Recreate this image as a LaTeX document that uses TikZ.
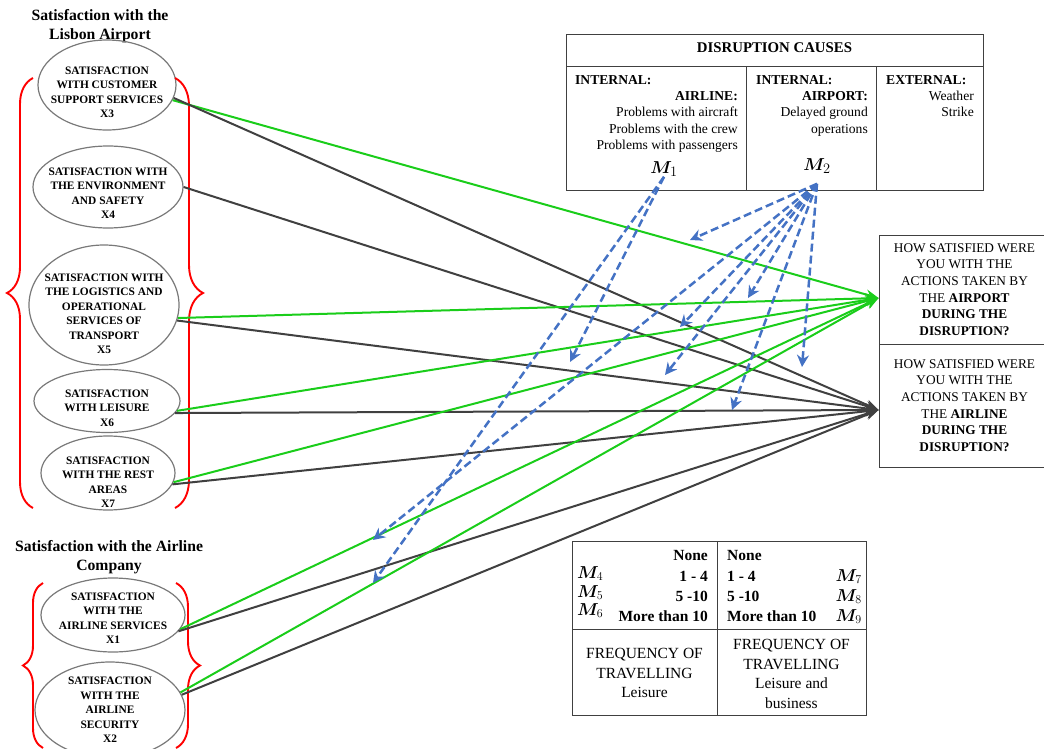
\documentclass[tikz,border=0pt]{standalone}
\usepackage{bm}
\usepackage{fontspec}
\setmainfont{Liberation Serif}
\usetikzlibrary{shapes.geometric, arrows.meta, decorations.pathreplacing, calc}
\definecolor{gaingreen}{HTML}{1ACD1A}
\definecolor{pathgray}{HTML}{404040}
\definecolor{modblue}{HTML}{4472C4}

\begin{document}
\begin{tikzpicture}[
    x=1pt, y=-1pt,
    factor/.style={ellipse, draw=gray!95!black, line width=1.2pt, inner sep=0pt},
    factortext/.style={inner sep=0pt, align=center, font=\fontsize{11.4}{14.5}\selectfont\bfseries},
    group/.style={align=center, font=\fontsize{15.7}{19}\selectfont\bfseries},
    question/.style={rectangle, draw=black!75, line width=0.9pt, minimum width=171pt,
                    align=center, font=\fontsize{13.3}{16.7}\selectfont},
    cell/.style={inner sep=0pt, font=\fontsize{13.6}{16.3}\selectfont},
    cellb/.style={inner sep=0pt, font=\fontsize{13.6}{16.3}\selectfont\bfseries},
    freq/.style={inner sep=0pt, font=\fontsize{15.5}{19.5}\selectfont},
    freqb/.style={inner sep=0pt, font=\fontsize{15.5}{19.5}\selectfont\bfseries},
    tableline/.style={draw=black!75, line width=0.9pt},
    groupbrace/.style={decorate, draw=red, line width=1.9pt},
    toairport/.style={-{Stealth[length=13pt,width=10pt]}, line width=2pt, gaingreen},
    toairline/.style={-{Stealth[length=13pt,width=10pt]}, line width=2pt, pathgray},
    moderator/.style={-{Stealth[length=12pt,width=12pt,inset=4pt]}, line width=2.5pt,
                     modblue, dash pattern=on 8pt off 4pt}
]
\useasboundingbox (0,0) rectangle (1044,749);

% Groups
\node[group] (gairport) at (100,26) {Satisfaction with the\\Lisbon Airport};
\node[group] (gairline) at (109,557) {Satisfaction with the Airline\\Company};

% Factors
\node[factor, minimum width=138pt, minimum height=90pt,
      label={[factortext, yshift=-7.5pt]center:SATISFACTION\\WITH CUSTOMER\\SUPPORT SERVICES\\X3}] (x3) at (107,85) {};
\node[factor, minimum width=150pt, minimum height=82pt,
      label={[factortext, yshift=-6pt]center:SATISFACTION WITH\\THE ENVIRONMENT\\AND SAFETY\\X4}] (x4) at (108,187) {};
\node[factor, minimum width=150pt, minimum height=120pt,
      label={[factortext, yshift=-9pt]center:SATISFACTION WITH\\THE LOGISTICS AND\\OPERATIONAL\\SERVICES OF\\TRANSPORT\\X5}] (x5) at (104,305) {};
\node[factor, minimum width=146pt, minimum height=63pt,
      label={[factortext, yshift=-7pt]center:SATISFACTION\\WITH LEISURE\\X6}] (x6) at (107,401) {};
\node[factor, minimum width=134pt, minimum height=74pt,
      label={[factortext, yshift=-9pt]center:SATISFACTION\\WITH THE REST\\AREAS\\X7}] (x7) at (108,473) {};
\node[factor, minimum width=144pt, minimum height=74pt,
      label={[factortext, yshift=-3pt]center:SATISFACTION\\WITH THE\\AIRLINE SERVICES\\X1}] (x1) at (113,615) {};
\node[factor, minimum width=150pt, minimum height=96pt,
      label={[factortext]center:SATISFACTION\\WITH THE\\AIRLINE\\SECURITY\\X2}] (x2) at (110,710) {};

% Braces
\draw[groupbrace, decoration={brace, amplitude=26pt}] (33,508) -- (33,78);
\draw[groupbrace, decoration={brace, amplitude=28pt}] (175,78) -- (175,508);
\draw[groupbrace, decoration={brace, amplitude=20pt}] (43,748) -- (43,583);
\draw[groupbrace, decoration={brace, amplitude=24pt}] (176,583) -- (176,748);

% Disruption causes
\draw[tableline] (566,34) rectangle (983,190);
\draw[tableline] (566,66.7) -- (983,66.7);
\draw[tableline] (746.7,66.7) -- (746.7,190);
\draw[tableline] (876.7,66.7) -- (876.7,190);
\node[cellb, font=\fontsize{14.8}{17}\selectfont\bfseries, anchor=base] (causes) at (774.5,52.5) {DISRUPTION CAUSES};
\node[cellb, anchor=base west] (int1) at (575,84.5) {INTERNAL:};
\node[cellb, anchor=base east] (catairline) at (738,101) {AIRLINE:};
\node[cell, anchor=base east] (c11) at (738,117) {Problems with aircraft};
\node[cell, anchor=base east] (c12) at (738,133.5) {Problems with the crew};
\node[cell, anchor=base east] (c13) at (738,149.5) {Problems with passengers};
\node[cell, font=\fontsize{19}{21}\selectfont] (m1) at (664,169) {$\bm{M}_1$};
\node[cellb, anchor=base west] (int2) at (756,84.5) {INTERNAL:};
\node[cellb, anchor=base east] (catairport) at (868,101) {AIRPORT:};
\node[cell, anchor=base east] (c21) at (868,117) {Delayed ground};
\node[cell, anchor=base east] (c22) at (868,133.5) {operations};
\node[cell, font=\fontsize{19}{21}\selectfont] (m2) at (817,166) {$\bm{M}_2$};
\node[cellb, anchor=base west] (ext) at (886,84.5) {EXTERNAL:};
\node[cell, anchor=base east] (c31) at (974,101) {Weather};
\node[cell, anchor=base east] (c32) at (974,117) {Strike};

% Questions
\node[question, minimum height=109pt] (apt) at (964.5,289.5) {HOW SATISFIED WERE\\YOU WITH THE\\ACTIONS TAKEN BY\\THE \textbf{AIRPORT}\\\textbf{DURING THE}\\\textbf{DISRUPTION?}};
\node[question, minimum height=123pt] (aln) at (964.5,405.5) {HOW SATISFIED WERE\\YOU WITH THE\\ACTIONS TAKEN BY\\THE \textbf{AIRLINE}\\\textbf{DURING THE}\\\textbf{DISRUPTION?}};
\coordinate (aptin) at ([yshift=-8.5pt]apt.west);
\coordinate (alnin) at ([yshift=-4.5pt]aln.west);

% Frequency of travelling
\draw[tableline] (572,541) rectangle (866,715);
\draw[tableline] (717,541) -- (717,715);
\draw[tableline] (572,629) -- (866,629);
\node[freqb, anchor=base east] (l0) at (708,560) {None};
\node[freqb, anchor=base east] (l1) at (708,581) {1 - 4};
\node[freqb, anchor=base east] (l2) at (708,601) {5 -10};
\node[freqb, anchor=base east] (l3) at (708,621) {More than 10};
\node[freq, font=\fontsize{17}{19}\selectfont, anchor=base west] (m4) at (577,578) {$\bm{M}_4$};
\node[freq, font=\fontsize{17}{19}\selectfont, anchor=base west] (m5) at (577,597) {$\bm{M}_5$};
\node[freq, font=\fontsize{17}{19}\selectfont, anchor=base west] (m6) at (577,615) {$\bm{M}_6$};
\node[freqb, anchor=base west] (b0) at (727,560) {None};
\node[freqb, anchor=base west] (b1) at (727,581) {1 - 4};
\node[freqb, anchor=base west] (b2) at (727,601) {5 -10};
\node[freqb, anchor=base west] (b3) at (727,621) {More than 10};
\node[freq, font=\fontsize{17}{19}\selectfont, anchor=base east] (m7) at (862,581) {$\bm{M}_7$};
\node[freq, font=\fontsize{17}{19}\selectfont, anchor=base east] (m8) at (862,601) {$\bm{M}_8$};
\node[freq, font=\fontsize{17}{19}\selectfont, anchor=base east] (m9) at (862,621) {$\bm{M}_9$};
\node[freq, align=center] (fleis) at (644.5,673) {FREQUENCY OF\\TRAVELLING\\Leisure};
\node[freq, align=center] (fboth) at (791.5,674) {FREQUENCY OF\\TRAVELLING\\Leisure and\\business};

% Paths
\draw[toairport] (x3.-13) -- (aptin);
\draw[toairline] (x3.-11) -- (alnin);
\draw[toairline] (x4.east) -- (alnin);
\draw[toairport] (x5.-10) -- (aptin);
\draw[toairline] (x5.-12) -- (alnin);
\draw[toairport] (x6.-8) -- (aptin);
\draw[toairline] (x6.-10) -- (alnin);
\draw[toairport] (x7.-8) -- (aptin);
\draw[toairline] (x7.-10) -- (alnin);
\draw[toairport] (x1.-12) -- (aptin);
\draw[toairline] (x1.-14) -- (alnin);
\draw[toairport] (x2.14) -- (aptin);
\draw[toairline] (x2.12) -- (alnin);

% Moderators
\coordinate (d1) at (570,362);
\coordinate (d2) at (373,583);
\coordinate (e1) at (690,240);
\coordinate (e2) at (748,298);
\coordinate (e3) at (680,327);
\coordinate (e4) at (665,375);
\coordinate (e5) at (732,410);
\coordinate (e6) at (802,367);
\coordinate (e7) at (373,540);
\draw[moderator] (m1.south) -- (d1);
\draw[moderator] (m1.south) -- (d2);
\foreach \e in {e1,e2,e3,e4,e5,e6,e7}
  \draw[moderator] ([yshift=-10pt]m2.south) -- (\e);

\end{tikzpicture}
\end{document}
